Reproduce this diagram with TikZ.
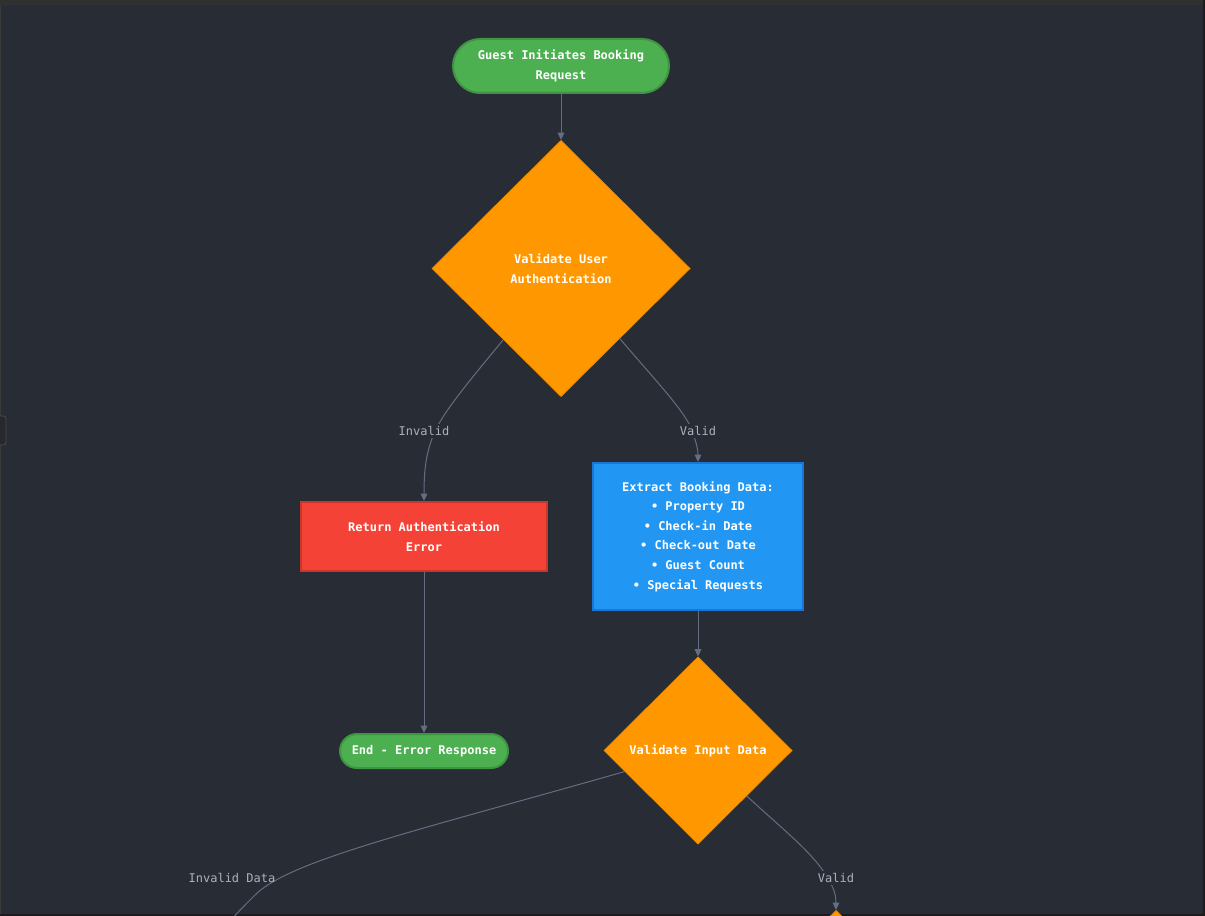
\documentclass[tikz,border=0pt]{standalone}
\usepackage{fontspec}
\setmonofont{DejaVu Sans Mono}
\usetikzlibrary{shapes.geometric,arrows.meta}

\definecolor{bg}{HTML}{282C34}
\definecolor{topbar}{HTML}{303030}
\definecolor{edgeframe}{HTML}{1C1C1C}
\definecolor{sidebar}{HTML}{3A3A3A}
\definecolor{tabfill}{HTML}{26282C}
\definecolor{tabdraw}{HTML}{4A4A4A}
\definecolor{termfill}{HTML}{4CAF50}
\definecolor{termdraw}{HTML}{3E9442}
\definecolor{decfill}{HTML}{FF9800}
\definecolor{decdraw}{HTML}{F08C00}
\definecolor{errfill}{HTML}{F44336}
\definecolor{errdraw}{HTML}{C8352B}
\definecolor{procfill}{HTML}{2196F3}
\definecolor{procdraw}{HTML}{1976D2}
\definecolor{edgec}{HTML}{646D82}
\definecolor{lblc}{HTML}{ABB2BF}

\begin{document}
\begin{tikzpicture}[x=0.75pt,y=-0.75pt,
  base/.style={font=\ttfamily\bfseries\fontsize{9}{14.7}\selectfont,
    text=white, align=center, inner sep=0pt},
  term/.style={base, rectangle, fill=termfill, draw=termdraw, line width=1.5pt},
  decision/.style={base, diamond, fill=decfill, draw=decdraw, line width=0.75pt},
  errbox/.style={base, rectangle, fill=errfill, draw=errdraw, line width=1.5pt},
  procbox/.style={base, rectangle, fill=procfill, draw=procdraw, line width=1.5pt},
  link/.style={draw=edgec, line width=0.75pt},
  arr/.style={link, -{Triangle[length=5.5pt,width=5pt]}},
  lbl/.style={font=\ttfamily\fontsize{9}{11}\selectfont, text=lblc,
    fill=bg, inner sep=2pt}
]
\useasboundingbox (0,0) rectangle (1205,916);
\clip (0,0) rectangle (1205,916);

% canvas and window frame
\fill[bg] (0,0) rectangle (1205,916);
\fill[topbar] (0,0) rectangle (1205,5);
\fill[sidebar] (0,5) rectangle (1.3,916);
\fill[edgeframe] (1203,0) rectangle (1205,916);
\fill[edgeframe] (0,914) rectangle (1205,916);
\filldraw[fill=tabfill, draw=tabdraw, line width=0.6pt, rounded corners=2pt]
  (-6,416) rectangle (6,445);

% nodes
\node[term, minimum width=162pt, minimum height=40.5pt, rounded corners=20.25pt]
  (start) at (561,66) {Guest Initiates Booking\\Request};
\node[decision, minimum width=193.5pt, minimum height=192pt]
  (auth) at (561,268.5) {Validate User\\Authentication};
\node[errbox, minimum width=184.5pt, minimum height=51.75pt]
  (err) at (424,536.5) {Return Authentication\\Error};
\node[procbox, minimum width=157.5pt, minimum height=110.25pt]
  (extract) at (698,536.5) {Extract Booking Data:\\• Property ID\\• Check-in Date\\• Check-out Date\\• Guest Count\\• Special Requests};
\node[term, minimum width=126pt, minimum height=25.5pt, rounded corners=12.75pt]
  (enderr) at (424,751) {End - Error Response};
\node[decision, minimum width=141pt, minimum height=140.25pt]
  (input) at (698,750.5) {Validate Input Data};
\node[decision, minimum width=141pt, minimum height=140.25pt]
  (next) at (836,1004) {};

% label positions and free ends
\coordinate (lInv) at (424,431);
\coordinate (lVal) at (698,431);
\coordinate (lInvData) at (232,878);
\coordinate (lValData) at (836,878);
\coordinate (offA) at (210,970);

% connectors
\draw[arr] (start) -- (auth);
\draw[arr] (auth.-129) .. controls (470,380) and (445,410) .. (435,431)
  .. controls (427,450) and (424,465) .. (err.north);
\draw[arr] (auth.-50) .. controls (655,380) and (684,410) .. (692,430)
  .. controls (697,445) and (698,450) .. (extract.north);
\draw[arr] (err) -- (enderr);
\draw[arr] (extract) -- (input);
\draw[link] (input.-164) .. controls (420,830) and (290,860) .. (255,895)
  .. controls (220,930) .. (offA);
\draw[arr] (input.-43) .. controls (780,827) and (810,850) .. (826,875)
  .. controls (834,888) and (836,895) .. (next.north);

% edge labels
\node[lbl] (tInv) at (lInv) {Invalid};
\node[lbl] (tVal) at (lVal) {Valid};
\node[lbl, fill=none] (tInvData) at (lInvData) {Invalid Data};
\node[lbl] (tValData) at (lValData) {Valid};
\end{tikzpicture}
\end{document}
